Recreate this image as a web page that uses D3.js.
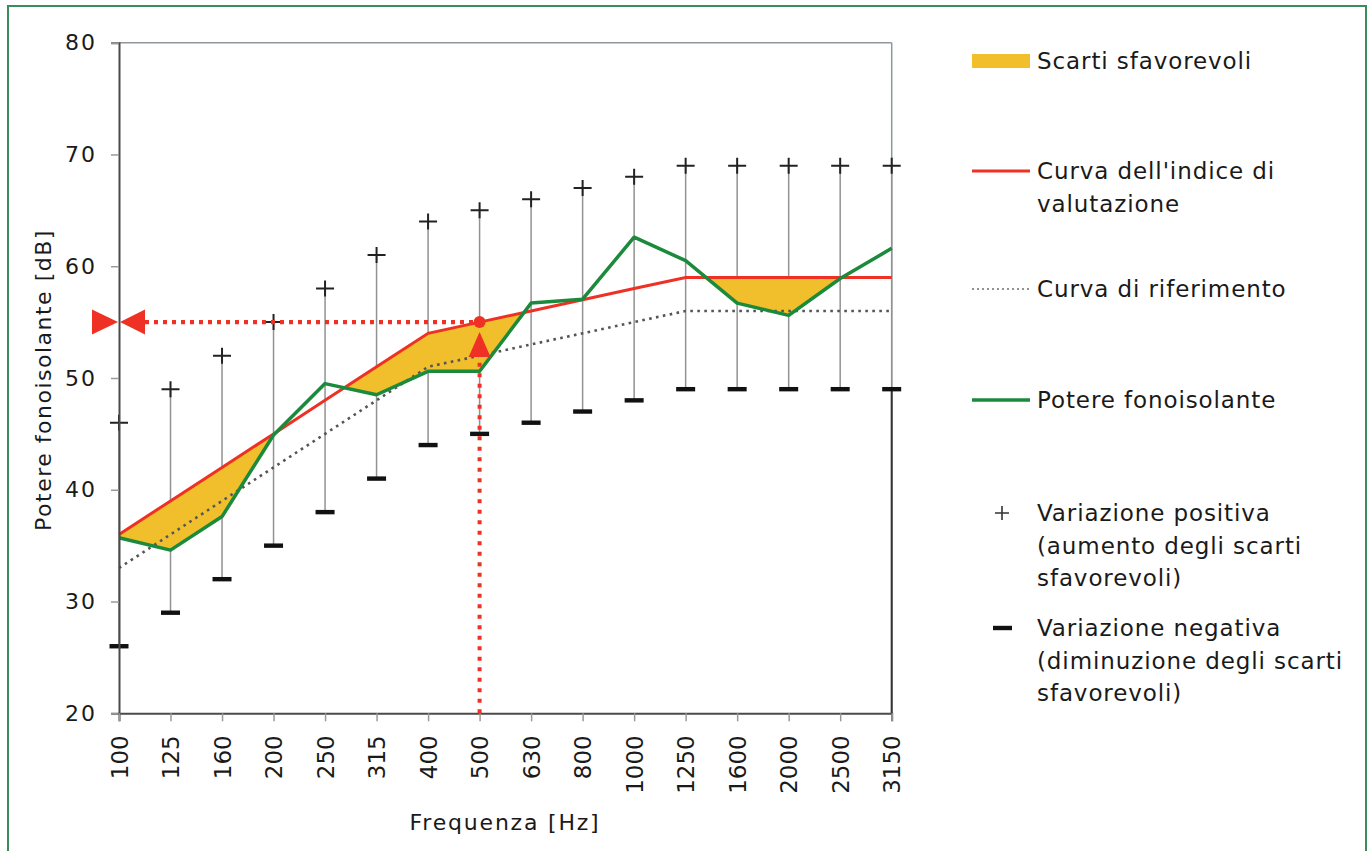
<!DOCTYPE html>
<html>
<head>
<meta charset="utf-8">
<script src="https://cdn.jsdelivr.net/npm/d3@7"></script>
<style>
  html, body { margin: 0; padding: 0; background: #fff; }
  svg { display: block; }
  text { font-family: "DejaVu Sans", sans-serif; fill: #1a1a1a; }
</style>
</head>
<body>
<svg id="chart" width="1370" height="851"></svg>
<script>
// ---- Data ----
const frequencies = ["100","125","160","200","250","315","400","500","630","800","1000","1250","1600","2000","2500","3150"];
const ratingCurve = [36,39,42,45,48,51,54,55,56,57,58,59,59,59,59,59];
const referenceCurve = [33,36,39,42,45,48,51,52,53,54,55,56,56,56,56,56];
const measured = [35.7,34.6,37.6,44.9,49.5,48.5,50.6,50.6,56.7,57.05,62.6,60.5,56.7,55.6,58.9,61.6];
const positiveVariation = [46,49,52,55,58,61,64,65,66,67,68,69,69,69,69,69];
const negativeVariation = [26,29,32,35,38,41,44,45,46,47,48,49,49,49,49,49];
const yTicks = [20,30,40,50,60,70,80];
const ratedValue = 55;
const ratedFreq = "500";

const legendItems = [
  {type:"fill", lines:["Scarti sfavorevoli"]},
  {type:"red", lines:["Curva dell'indice di","valutazione"]},
  {type:"dotted", lines:["Curva di riferimento"]},
  {type:"green", lines:["Potere fonoisolante"]},
  {type:"plus", lines:["Variazione positiva","(aumento degli scarti","sfavorevoli)"]},
  {type:"minus", lines:["Variazione negativa","(diminuzione degli scarti","sfavorevoli)"]}
];

// ---- Styles ----
const RED = "#ee3124", GREEN = "#1b8a3c", YELLOW = "#f1bf2c", REFGRAY = "#555";

const svg = d3.select("#chart");
const L = 119, R = 891.7, T = 42.7, B = 713.3;

const x = d3.scalePoint().domain(frequencies).range([L, R]);
const y = d3.scaleLinear().domain([20, 80]).range([B, T]);

// frame
svg.append("rect").attr("x", 8).attr("y", 6).attr("width", 1358).attr("height", 860)
  .attr("fill", "none").attr("stroke", "#3d8a5c").attr("stroke-width", 2);

const rows = frequencies.map((f, i) => ({
  f, rating: ratingCurve[i], ref: referenceCurve[i], meas: measured[i],
  plus: positiveVariation[i], minus: negativeVariation[i]
}));

// plot border top/right
svg.append("line").attr("x1", L).attr("x2", R).attr("y1", T).attr("y2", T)
  .attr("stroke", "#8e989c").attr("stroke-width", 1.5);
svg.append("line").attr("x1", R).attr("x2", R).attr("y1", T).attr("y2", B)
  .attr("stroke", "#8e989c").attr("stroke-width", 1.5);
svg.append("line").attr("x1", R).attr("x2", R).attr("y1", y(49)).attr("y2", B)
  .attr("stroke", "#333").attr("stroke-width", 2);

// error bars
svg.append("g").selectAll("line").data(rows).join("line")
  .attr("x1", d => x(d.f)).attr("x2", d => x(d.f))
  .attr("y1", d => y(d.plus)).attr("y2", d => y(d.minus))
  .attr("stroke", "#929292").attr("stroke-width", 1.5);

// clip: region below rating curve
const defs = svg.append("defs");
defs.append("clipPath").attr("id", "belowRating").append("path")
  .attr("d", d3.area().x(d => x(d.f)).y0(B).y1(d => y(d.rating))(rows));

// unfavourable deviation fill
svg.append("path")
  .attr("d", d3.area().x(d => x(d.f)).y0(d => y(d.meas)).y1(d => y(d.rating))(rows))
  .attr("fill", YELLOW).attr("clip-path", "url(#belowRating)");

const line = key => d3.line().x(d => x(d.f)).y(d => y(d[key]));

// reference curve
svg.append("path").attr("d", line("ref")(rows)).attr("fill", "none")
  .attr("stroke", REFGRAY).attr("stroke-width", 2.6).attr("stroke-dasharray", "2.6,4.4");
// rating curve
svg.append("path").attr("d", line("rating")(rows)).attr("fill", "none")
  .attr("stroke", RED).attr("stroke-width", 3);
// measured
svg.append("path").attr("d", line("meas")(rows)).attr("fill", "none")
  .attr("stroke", GREEN).attr("stroke-width", 3.5).attr("stroke-linejoin", "round");

// plus marks
const plusG = svg.append("g").attr("stroke", "#222").attr("stroke-width", 2);
plusG.selectAll("path").data(rows).join("path")
  .attr("d", d => `M${x(d.f)-9},${y(d.plus)}H${x(d.f)+9}M${x(d.f)},${y(d.plus)-8}V${y(d.plus)+8}`);
// minus marks
svg.append("g").selectAll("rect").data(rows).join("rect")
  .attr("x", d => x(d.f) - 9.5).attr("y", d => y(d.minus) - 2.2)
  .attr("width", 19).attr("height", 4.4).attr("fill", "#111");

// axes
const yAxis = d3.axisLeft(y).tickValues(yTicks).tickSize(8).tickPadding(14);
const gy = svg.append("g").attr("transform", `translate(${L},0)`).call(yAxis);
gy.select(".domain").attr("stroke", "#4a4a4a").attr("stroke-width", 2);
gy.selectAll(".tick line").attr("stroke", "#999").attr("stroke-width", 1.5);
gy.selectAll(".tick text").attr("font-size", 22).attr("letter-spacing", 2)
  .attr("font-family", "DejaVu Sans").attr("fill", "#1a1a1a");

const xAxis = d3.axisBottom(x).tickSize(8).tickPadding(0);
const gx = svg.append("g").attr("transform", `translate(0,${B})`).call(xAxis);
gx.select(".domain").attr("stroke", "#4a4a4a").attr("stroke-width", 2);
gx.selectAll(".tick line").attr("stroke", "#999").attr("stroke-width", 1.5);
gx.selectAll(".tick text")
  .attr("font-size", 23).attr("font-family", "DejaVu Sans").attr("fill", "#1a1a1a")
  .attr("text-anchor", "end").attr("transform", "rotate(-90)")
  .attr("x", -22).attr("y", 0).attr("dy", "0.36em");

// axis titles
svg.append("text").attr("transform", `translate(51,${(225+535)/2}) rotate(-90)`)
  .attr("text-anchor", "middle").attr("font-size", 22).attr("letter-spacing", 1.5)
  .text("Potere fonoisolante [dB]");
svg.append("text").attr("x", 505).attr("y", 830).attr("text-anchor", "middle")
  .attr("font-size", 22).attr("letter-spacing", 1.8).text("Frequenza [Hz]");

// rated value indicator
const xr = x(ratedFreq), yr = y(ratedValue);
svg.append("line").attr("x1", L + 26).attr("x2", xr).attr("y1", yr).attr("y2", yr)
  .attr("stroke", RED).attr("stroke-width", 4.2).attr("stroke-dasharray", "4,5");
svg.append("line").attr("x1", xr).attr("x2", xr).attr("y1", B).attr("y2", yr + 34)
  .attr("stroke", RED).attr("stroke-width", 4).attr("stroke-dasharray", "4,6.5");
svg.append("path").attr("fill", RED)
  .attr("d", `M${L-27},${yr-12.5}L${L-1},${yr}L${L-27},${yr+12.5}Z`);
svg.append("path").attr("fill", RED)
  .attr("d", `M${L+26},${yr-12.5}L${L+1},${yr}L${L+26},${yr+12.5}Z`);
svg.append("path").attr("fill", RED)
  .attr("d", `M${xr-11},${yr+35}L${xr},${yr+10}L${xr+11},${yr+35}Z`);
svg.append("circle").attr("cx", xr).attr("cy", yr).attr("r", 6).attr("fill", RED);

// legend
const legendY = [61, 171, 289, 400, 513, 628];
const textX = 1037;
const lg = svg.append("g");
legendItems.forEach((it, i) => {
  const cy = legendY[i];
  if (it.type === "fill") {
    lg.append("rect").attr("x", 972).attr("y", cy - 7).attr("width", 58).attr("height", 14).attr("fill", YELLOW);
  } else if (it.type === "red") {
    lg.append("line").attr("x1", 972).attr("x2", 1030).attr("y1", cy).attr("y2", cy).attr("stroke", RED).attr("stroke-width", 3);
  } else if (it.type === "green") {
    lg.append("line").attr("x1", 972).attr("x2", 1030).attr("y1", cy).attr("y2", cy).attr("stroke", GREEN).attr("stroke-width", 3.5);
  } else if (it.type === "dotted") {
    lg.append("line").attr("x1", 972).attr("x2", 1030).attr("y1", cy).attr("y2", cy).attr("stroke", "#6f6f6f").attr("stroke-width", 1.5).attr("stroke-dasharray", "2,3");
  } else if (it.type === "plus") {
    lg.append("path").attr("d", `M${1002-7},${cy}H${1002+7}M1002,${cy-7}V${cy+7}`).attr("stroke", "#333").attr("stroke-width", 1.6);
  } else if (it.type === "minus") {
    lg.append("rect").attr("x", 993).attr("y", cy - 2.2).attr("width", 19).attr("height", 4.4).attr("fill", "#111");
  }
  const firstBaseline = cy + 8;
  const t = lg.append("text").attr("x", textX).attr("y", firstBaseline)
    .attr("font-size", 23).attr("letter-spacing", 0.9);
  it.lines.forEach((ln, j) => {
    t.append("tspan").attr("x", textX).attr("dy", j === 0 ? 0 : 32.5).text(ln);
  });
});
</script>
</body>
</html>
